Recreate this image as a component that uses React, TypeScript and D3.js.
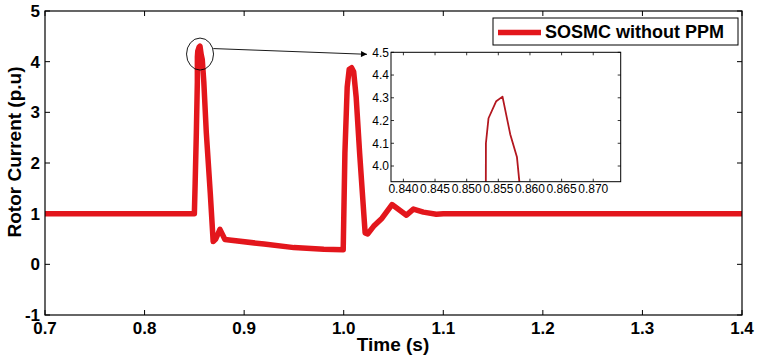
import React from "react";
import * as d3 from "d3";

const timeS = [0.7, 0.85, 0.8508, 0.852, 0.853, 0.85304, 0.85345, 0.85467, 0.85566, 0.85688, 0.85794, 0.8595, 0.862, 0.866, 0.8689, 0.8715, 0.8757, 0.8807, 0.92, 0.95, 0.98, 0.9995, 1.0012, 1.0035, 1.0055, 1.0079, 1.010, 1.0125, 1.016, 1.0215, 1.024, 1.030, 1.0385, 1.0485, 1.063, 1.070, 1.080, 1.093, 1.1, 1.4];
const rotorCurrent = [1.0, 1.0, 1.6, 2.6, 3.6, 4.1, 4.21, 4.285, 4.305, 4.14, 4.04, 3.6, 2.6, 1.4, 0.45, 0.5, 0.69, 0.49, 0.4, 0.33, 0.3, 0.29, 2.2, 3.5, 3.85, 3.88, 3.8, 3.3, 2.19, 0.62, 0.6, 0.75, 0.91, 1.18, 0.97, 1.09, 1.03, 0.99, 1.0, 1.0];

const xTicks = [0.7, 0.8, 0.9, 1.0, 1.1, 1.2, 1.3, 1.4];
const yTicks = [-1, 0, 1, 2, 3, 4, 5];
const insetXTicks = [0.84, 0.845, 0.85, 0.855, 0.86, 0.865, 0.87];
const insetYTicks = [4.0, 4.1, 4.2, 4.3, 4.4, 4.5];
const legendLabel = "SOSMC without PPM";
const xLabel = "Time (s)";
const yLabel = "Rotor Current (p.u)";

const FONT = "'Liberation Sans', Arial, Helvetica, sans-serif";

export default function App() {
  const W = 757, H = 359;
  const L = 45, R = 742, T = 11, B = 315;
  const x = d3.scaleLinear().domain([0.7, 1.4]).range([L, R]);
  const y = d3.scaleLinear().domain([-1, 5]).range([B, T]);
  const pts: [number, number][] = timeS.map((t, i) => [t, rotorCurrent[i]]);
  const line = d3.line<[number, number]>().x(d => x(d[0])).y(d => y(d[1]));

  const iL = 391, iR = 620.7, iT = 52.3, iB = 181.7;
  const ix = d3.scaleLinear().domain([0.83804, 0.87434]).range([iL, iR]);
  const iy = d3.scaleLinear().domain([3.931, 4.5]).range([iB, iT]);
  const iline = d3.line<[number, number]>().x(d => ix(d[0])).y(d => iy(d[1]));

  const red = "#e3161c";
  const tk = 5;
  const itk = 3;

  const cx = x(0.8557), cy = y(4.15);
  const arrowStart: [number, number] = [cx + 13.3, cy - 5.5];
  const arrowEnd: [number, number] = [iL - 24, iT + 2];

  return (
    <svg width={W} height={H} style={{ position: "absolute", left: 0, top: 0, background: "#fff" }} fontFamily={FONT}>
      <defs>
        <clipPath id="mainclip"><rect x={L} y={T} width={R - L} height={B - T} /></clipPath>
        <clipPath id="insetclip"><rect x={iL} y={iT} width={iR - iL} height={iB - iT} /></clipPath>
        <marker id="arr" viewBox="0 0 10 10" refX="10" refY="5" markerWidth="9" markerHeight="6" orient="auto" markerUnits="userSpaceOnUse">
          <path d="M0,0 L10,5 L0,10 z" fill="#000" />
        </marker>
      </defs>
      <rect x={0} y={0} width={W} height={H} fill="#fff" />
      {xTicks.map(t => (
        <g key={"xt" + t}>
          <line x1={x(t)} x2={x(t)} y1={B} y2={B - tk} stroke="#000" />
          <line x1={x(t)} x2={x(t)} y1={T} y2={T + tk} stroke="#000" />
          <text x={x(t)} y={334} textAnchor="middle" fontSize={17} fontWeight="bold">{d3.format(".1f")(t)}</text>
        </g>
      ))}
      {yTicks.map(t => (
        <g key={"yt" + t}>
          <line x1={L} x2={L + tk} y1={y(t)} y2={y(t)} stroke="#000" />
          <line x1={R} x2={R - tk} y1={y(t)} y2={y(t)} stroke="#000" />
          <text x={40} y={y(t)} dy="0.36em" textAnchor="end" fontSize={17} fontWeight="bold">{t}</text>
        </g>
      ))}
      <path d={line(pts) || ""} fill="none" stroke={red} strokeWidth={5.5} strokeLinejoin="round" strokeLinecap="butt" clipPath="url(#mainclip)" />
      <rect x={L} y={T} width={R - L} height={B - T} fill="none" stroke="#000" strokeWidth={1.2} />
      <text x={393} y={351} textAnchor="middle" fontSize={19} fontWeight="bold">{xLabel}</text>
      <text transform={`translate(21,152) rotate(-90)`} textAnchor="middle" fontSize={19} fontWeight="bold">{yLabel}</text>

      <ellipse cx={cx} cy={cy} rx={13.5} ry={16} fill="none" stroke="#000" strokeWidth={0.9} />
      <line x1={arrowStart[0]} y1={arrowStart[1]} x2={arrowEnd[0]} y2={arrowEnd[1]} stroke="#000" strokeWidth={0.9} markerEnd="url(#arr)" />

      <rect x={iL} y={iT} width={iR - iL} height={iB - iT} fill="#fff" stroke="none" />
      <path d={iline(pts) || ""} fill="none" stroke="#b3171f" strokeWidth={1.8} strokeLinejoin="round" clipPath="url(#insetclip)" />
      {insetXTicks.map(t => (
        <g key={"ixt" + t}>
          <line x1={ix(t)} x2={ix(t)} y1={iB} y2={iB - itk} stroke="#000" strokeWidth={0.8} />
          <line x1={ix(t)} x2={ix(t)} y1={iT} y2={iT + itk} stroke="#000" strokeWidth={0.8} />
          <text x={ix(t)} y={192.5} textAnchor="middle" fontSize={12}>{d3.format(".3f")(t)}</text>
        </g>
      ))}
      {insetYTicks.map(t => (
        <g key={"iyt" + t}>
          <line x1={iL} x2={iL + itk} y1={iy(t)} y2={iy(t)} stroke="#000" strokeWidth={0.8} />
          <line x1={iR} x2={iR - itk} y1={iy(t)} y2={iy(t)} stroke="#000" strokeWidth={0.8} />
          <text x={389} y={iy(t)} dy="0.36em" textAnchor="end" fontSize={12}>{d3.format(".1f")(t)}</text>
        </g>
      ))}
      <rect x={iL} y={iT} width={iR - iL} height={iB - iT} fill="none" stroke="#000" strokeWidth={1} />

      <rect x={493} y={18} width={245} height={27} fill="#fff" stroke="#000" strokeWidth={1} />
      <line x1={498} x2={541} y1={32.5} y2={32.5} stroke={red} strokeWidth={5.5} />
      <text x={545} y={38} fontSize={18} fontWeight="bold">{legendLabel}</text>
    </svg>
  );
}
